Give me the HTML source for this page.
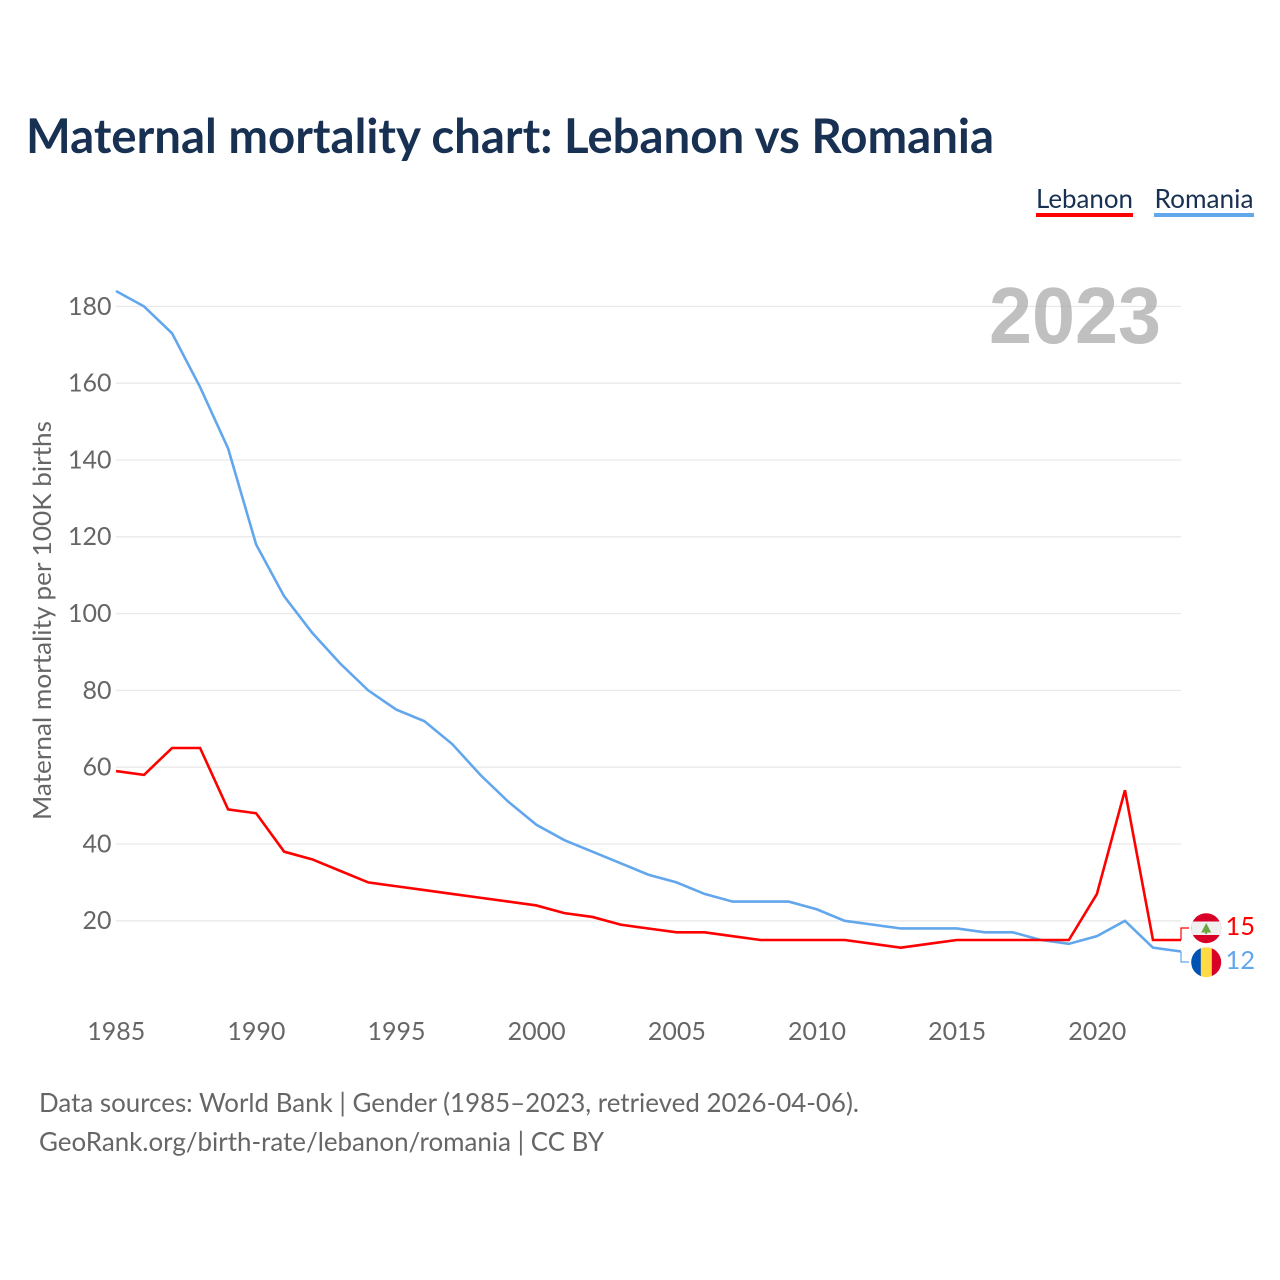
<!DOCTYPE html>
<html lang="en">
<head>
<meta charset="utf-8">
<title>Maternal mortality chart: Lebanon vs Romania</title>
<style>
html,body{margin:0;padding:0;background:#fff;width:1280px;height:1280px;overflow:hidden}
svg{display:block}
text{font-family:"Lato","Carlito","Liberation Sans",sans-serif}
</style>
</head>
<body>
<svg id="chart" xmlns="http://www.w3.org/2000/svg" width="1280" height="1280" viewBox="0 0 1280 1280">
  <rect x="0" y="0" width="1280" height="1280" fill="#ffffff"/>
  <text x="26" y="153" font-size="48" font-weight="700" fill="#183153" textLength="968" lengthAdjust="spacingAndGlyphs">Maternal mortality chart: Lebanon vs Romania</text>

  <g>
    <text x="1036" y="208" font-size="26.5" fill="#183153" textLength="97" lengthAdjust="spacingAndGlyphs">Lebanon</text>
    <rect x="1036" y="213" width="97" height="4" fill="#ff0000"/>
  </g>
  <g>
    <text x="1154.5" y="208" font-size="26.5" fill="#183153" textLength="99" lengthAdjust="spacingAndGlyphs">Romania</text>
    <rect x="1154" y="213" width="100" height="4" fill="#62a6ec"/>
  </g>

  <g id="grid"></g>
  <g id="yticks"></g>
  <g id="xticks"></g>

  <text transform="translate(51 820) rotate(-90)" font-size="25.5" fill="#666666" textLength="399" lengthAdjust="spacingAndGlyphs">Maternal mortality per 100K births</text>

  <text x="989" y="343" font-size="80" font-weight="700" fill="#a8a8a8" fill-opacity="0.72" textLength="172" lengthAdjust="spacingAndGlyphs" style="font-family:'Liberation Sans',sans-serif">2023</text>

  <g id="series"></g>
  <g id="endlabels"></g>

  <defs>
    <clipPath id="clip-lb"><circle cx="1206.2" cy="928.2" r="15"/></clipPath>
    <clipPath id="clip-ro"><circle cx="1206.2" cy="962.2" r="15"/></clipPath>
  </defs>
  <g clip-path="url(#clip-lb)">
    <rect x="1191" y="913" width="31" height="31" fill="#d80027"/>
    <rect x="1191" y="921.5" width="31" height="13.5" fill="#f0f0f0"/>
    <polygon points="1206.2,923 1211.2,932.5 1201.2,932.5" fill="#6da544"/>
    <rect x="1205.2" y="932" width="2" height="2" fill="#6da544"/>
  </g>
  <g clip-path="url(#clip-ro)">
    <rect x="1191" y="947" width="10" height="31" fill="#0052b4"/>
    <rect x="1200.8" y="947" width="11" height="31" fill="#ffda44"/>
    <rect x="1211.8" y="947" width="10" height="31" fill="#d80027"/>
  </g>

  <text x="39" y="1112" font-size="26" fill="#666666" textLength="820" lengthAdjust="spacingAndGlyphs">Data sources: World Bank | Gender (1985–2023, retrieved 2026-04-06).</text>
  <text x="39" y="1151" font-size="26" fill="#666666" textLength="565" lengthAdjust="spacingAndGlyphs">GeoRank.org/birth-rate/lebanon/romania | CC BY</text>
</svg>
<script>
const years = [1985,1986,1987,1988,1989,1990,1991,1992,1993,1994,1995,1996,1997,1998,1999,2000,2001,2002,2003,2004,2005,2006,2007,2008,2009,2010,2011,2012,2013,2014,2015,2016,2017,2018,2019,2020,2021,2022,2023];
const lebanonValues = [59,58,65,65,49,48,38,36,33,30,29,28,27,26,25,24,22,21,19,18,17,17,16,15,15,15,15,14,13,14,15,15,15,15,15,27,54,15,15];
const romaniaValues = [184,180,173,159,143,118,104.5,95,87,80,75,72,66,58,51,45,41,38,35,32,30,27,25,25,25,23,20,19,18,18,18,17,17,15,14,16,20,13,12];
const yTickValues = [20,40,60,80,100,120,140,160,180];
const xTickValues = [1985,1990,1995,2000,2005,2010,2015,2020];

const NS = 'http://www.w3.org/2000/svg';
function xScale(year){ return 116 + (year - 1985) * (1181 - 116) / (2023 - 1985); }
function yScale(v){ return 997.6 - v * 3.84; }
function make(tag, parent, props){
  const el = document.createElementNS(NS, tag);
  for (const k in props) el.setAttribute(k, props[k]);
  parent.appendChild(el);
  return el;
}

const grid = document.getElementById('grid');
const yticks = document.getElementById('yticks');
const xticks = document.getElementById('xticks');
const series = document.getElementById('series');
const endlabels = document.getElementById('endlabels');

yTickValues.forEach(function(v){
  const line = make('line', grid, {x1:116, x2:1181, y1:yScale(v), y2:yScale(v), stroke:'#e9e9e9', 'stroke-width':1.3});
  
  
  const t = make('text', yticks, {x:111.5, y:yScale(v) + 8.4, 'text-anchor':'end', 'font-size':25, fill:'#666666'});
  
  
  t.textContent = v;
});

xTickValues.forEach(function(v){
  const t = make('text', xticks, {x:xScale(v) + 0.3, y:1040, 'text-anchor':'middle', 'font-size':25, fill:'#666666'});
  
  
  t.textContent = v;
});

function pathFor(values){
  return values.map(function(v, i){
    return (i ? 'L' : 'M') + xScale(years[i]).toFixed(2) + ' ' + yScale(v).toFixed(2);
  }).join(' ');
}

const romaniaLine = make('path', series, {d:pathFor(romaniaValues), fill:'none', stroke:'#62a6ec', 'stroke-width':2.6, 'stroke-linejoin':'miter'});



const lebanonLine = make('path', series, {d:pathFor(lebanonValues), fill:'none', stroke:'#ff0000', 'stroke-width':2.6, 'stroke-linejoin':'miter'});



const lastLebanon = lebanonValues[lebanonValues.length - 1];
const lastRomania = romaniaValues[romaniaValues.length - 1];
const xEnd = xScale(years[years.length - 1]);

const connLb = make('path', endlabels, {d:'M' + xEnd + ' ' + yScale(lastLebanon) + ' V928 H1189', fill:'none', stroke:'#ff0000', 'stroke-width':1.2});



const connRo = make('path', endlabels, {d:'M' + xEnd + ' ' + yScale(lastRomania) + ' V962 H1189', fill:'none', stroke:'#62a6ec', 'stroke-width':1.2});



const valLb = make('text', endlabels, {x:1225.5, y:935, 'font-size':25.5, fill:'#ff0000'});


valLb.textContent = lastLebanon;

const valRo = make('text', endlabels, {x:1225.5, y:969, 'font-size':25.5, fill:'#62a6ec'});


valRo.textContent = lastRomania;
</script>
</body>
</html>
